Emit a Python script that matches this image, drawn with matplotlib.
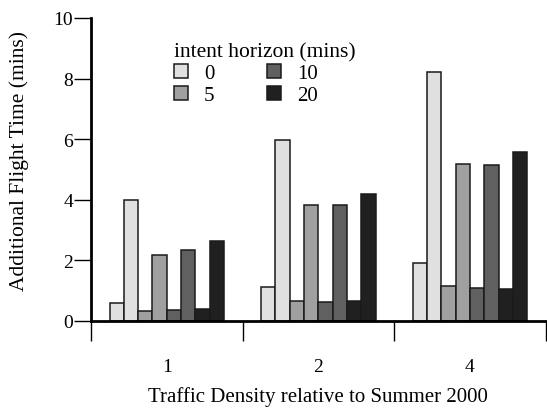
import numpy as np
import matplotlib.pyplot as plt
from matplotlib.patches import Patch

plt.rcParams['font.family'] = ['Liberation Serif', 'DejaVu Serif']

density = ['1', '2', '4']
horizons = ['0', '5', '10', '20']
# two bars per horizon in each group: short one, tall one
short_vals = {
    '0': [0.59, 1.10, 1.92],
    '5': [0.33, 0.66, 1.14],
    '10': [0.34, 0.63, 1.07],
    '20': [0.39, 0.66, 1.05],
}
tall_vals = {
    '0': [3.99, 5.98, 8.22],
    '5': [2.18, 3.82, 5.19],
    '10': [2.35, 3.83, 5.15],
    '20': [2.64, 4.17, 5.56],
}
colors = ['#e0e0e0', '#a0a0a0', '#606060', '#202020']

fig = plt.figure(figsize=(5.47, 4.10), dpi=100)
ax = fig.add_axes([0.1664, 0.2154, 0.9976 - 0.1664, 0.9537 - 0.2154])

x = np.arange(len(density))
w = 0.0944
k = 0
for h, c in zip(horizons, colors):
    ax.bar(x + (k - 3.5) * w, short_vals[h], w, color=c, edgecolor='#1a1a1a', linewidth=1.1)
    k += 1
    ax.bar(x + (k - 3.5) * w, tall_vals[h], w, color=c, edgecolor='#1a1a1a', linewidth=1.1)
    k += 1

ax.set_xlim(-0.5, 2.5)
ax.set_ylim(0, 10)
ax.spines['top'].set_visible(False)
ax.spines['right'].set_visible(False)
ax.spines['left'].set_linewidth(2)
ax.spines['bottom'].set_linewidth(2)

ax.set_yticks([0, 2, 4, 6, 8, 10])
ax.tick_params(axis='y', length=12, width=1, pad=1, labelsize=14)

# separators between groups as major ticks, labels on minor ticks
ax.set_xticks([-0.5, 0.5, 1.5, 2.5])
ax.set_xticklabels([])
ax.tick_params(axis='x', which='major', length=14.5, width=1)
ax.set_xticks(x, minor=True)
ax.set_xticklabels(density, minor=True)
ax.tick_params(axis='x', which='minor', length=0, pad=27, labelsize=14)

ax.set_ylabel('Additional Flight Time (mins)', fontsize=15.5)
ax.yaxis.set_label_coords(-0.137, 0.53)
ax.set_xlabel('Traffic Density relative to Summer 2000', fontsize=15, labelpad=8)

handles = [Patch(facecolor=c, edgecolor='#1a1a1a', linewidth=1.1) for c in colors]
ax.legend(handles, horizons, title='intent horizon (mins)', ncol=2,
          loc='upper left', bbox_to_anchor=(0.159, 0.955), frameon=False,
          fontsize=15, title_fontsize=15.5, alignment='left',
          handlelength=0.7, handleheight=0.7, handletextpad=0.75,
          columnspacing=2.5, labelspacing=0.12, borderpad=0)

fig.savefig('out.png', dpi=100)
